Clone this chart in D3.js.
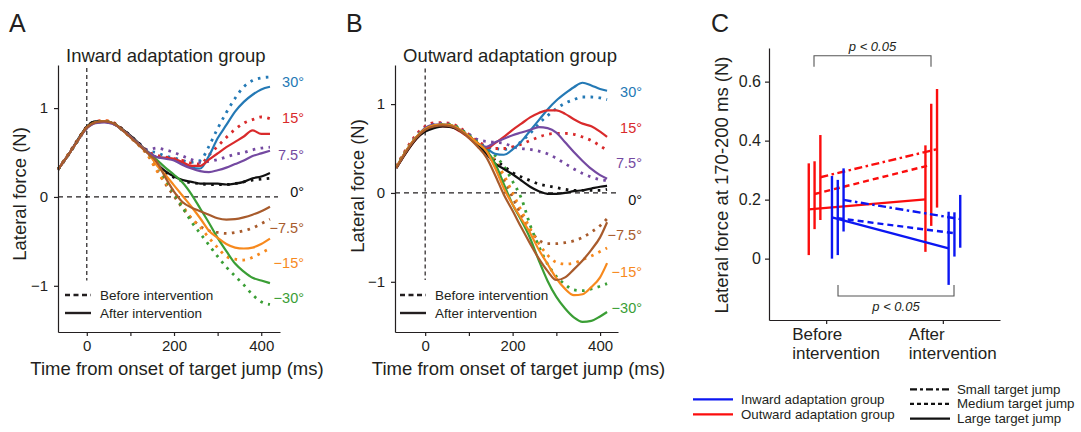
<!DOCTYPE html>
<html>
<head>
<meta charset="utf-8">
<script src="https://cdn.jsdelivr.net/npm/d3@7"></script>
<style>
  body { margin: 0; background: #fff; }
  svg text { font-family: "Liberation Sans", Arial, sans-serif; fill: #231f20; }
</style>
</head>
<body>
<svg id="chart" width="1081" height="432"></svg>
<script>
// ---- data ----
const timeA = [-66, -40, -20, 0, 20, 40, 60, 80, 100, 120, 140, 160, 180, 200, 220, 240, 260, 280, 300, 320, 340, 360, 380, 400, 420];
const timeB = [-66, -40, -20, 0, 20, 40, 60, 80, 100, 120, 140, 160, 180, 200, 220, 240, 260, 280, 300, 320, 340, 360, 380, 400, 416];

const angles = ["30°", "15°", "7.5°", "0°", "−7.5°", "−15°", "−30°"];
const angleColors = ["#2479b5", "#d92a2b", "#7449a1", "#111111", "#a85b2c", "#f7891d", "#3a9e35"];

// inward adaptation group (panel A), one row per angle
const inwardBefore = [
  [0.31, 0.49, 0.64, 0.78, 0.84, 0.85, 0.83, 0.76, 0.68, 0.60, 0.52, 0.50, 0.46, 0.44, 0.41, 0.39, 0.41, 0.57, 0.77, 0.95, 1.11, 1.24, 1.31, 1.34, 1.35],
  [0.31, 0.50, 0.65, 0.79, 0.85, 0.86, 0.84, 0.77, 0.68, 0.60, 0.51, 0.47, 0.45, 0.43, 0.41, 0.38, 0.37, 0.47, 0.57, 0.67, 0.76, 0.83, 0.87, 0.90, 0.88],
  [0.31, 0.49, 0.64, 0.78, 0.84, 0.85, 0.83, 0.76, 0.68, 0.60, 0.53, 0.55, 0.53, 0.50, 0.46, 0.42, 0.39, 0.40, 0.42, 0.45, 0.48, 0.50, 0.53, 0.55, 0.56],
  [0.31, 0.49, 0.64, 0.79, 0.85, 0.85, 0.83, 0.77, 0.69, 0.60, 0.50, 0.37, 0.28, 0.22, 0.18, 0.16, 0.15, 0.14, 0.14, 0.14, 0.15, 0.17, 0.19, 0.20, 0.21],
  [0.31, 0.49, 0.64, 0.78, 0.84, 0.85, 0.83, 0.76, 0.67, 0.58, 0.47, 0.31, 0.15, 0.01, -0.13, -0.24, -0.33, -0.38, -0.40, -0.41, -0.40, -0.38, -0.35, -0.30, -0.25],
  [0.31, 0.50, 0.65, 0.78, 0.84, 0.86, 0.83, 0.76, 0.67, 0.58, 0.47, 0.30, 0.16, 0.06, -0.10, -0.24, -0.34, -0.46, -0.57, -0.67, -0.70, -0.71, -0.68, -0.63, -0.58],
  [0.31, 0.49, 0.64, 0.78, 0.84, 0.85, 0.83, 0.76, 0.68, 0.59, 0.49, 0.38, 0.20, 0.04, -0.12, -0.28, -0.41, -0.54, -0.67, -0.79, -0.89, -0.99, -1.10, -1.18, -1.21]
];
const inwardAfter = [
  [0.31, 0.49, 0.64, 0.78, 0.84, 0.85, 0.83, 0.76, 0.68, 0.59, 0.51, 0.45, 0.44, 0.42, 0.38, 0.33, 0.32, 0.46, 0.66, 0.81, 0.96, 1.07, 1.15, 1.21, 1.24],
  [0.31, 0.49, 0.64, 0.78, 0.84, 0.85, 0.83, 0.76, 0.68, 0.59, 0.50, 0.45, 0.44, 0.43, 0.39, 0.35, 0.35, 0.42, 0.49, 0.56, 0.62, 0.68, 0.75, 0.71, 0.71],
  [0.31, 0.49, 0.64, 0.77, 0.83, 0.84, 0.82, 0.76, 0.68, 0.59, 0.50, 0.45, 0.43, 0.41, 0.36, 0.32, 0.29, 0.28, 0.30, 0.33, 0.37, 0.41, 0.46, 0.49, 0.52],
  [0.31, 0.49, 0.65, 0.79, 0.85, 0.85, 0.83, 0.77, 0.69, 0.60, 0.50, 0.38, 0.29, 0.23, 0.19, 0.17, 0.15, 0.15, 0.15, 0.14, 0.15, 0.17, 0.21, 0.23, 0.27],
  [0.31, 0.49, 0.64, 0.78, 0.84, 0.85, 0.83, 0.76, 0.67, 0.58, 0.49, 0.40, 0.22, 0.06, -0.06, -0.12, -0.16, -0.20, -0.24, -0.255, -0.25, -0.23, -0.20, -0.16, -0.11],
  [0.31, 0.49, 0.64, 0.78, 0.84, 0.85, 0.83, 0.76, 0.68, 0.59, 0.50, 0.36, 0.25, 0.13, 0.01, -0.11, -0.24, -0.38, -0.46, -0.53, -0.57, -0.58, -0.57, -0.53, -0.47],
  [0.31, 0.49, 0.64, 0.78, 0.84, 0.85, 0.83, 0.76, 0.68, 0.59, 0.50, 0.42, 0.33, 0.25, 0.16, 0.03, -0.13, -0.29, -0.46, -0.61, -0.75, -0.84, -0.91, -0.94, -0.97]
];

// outward adaptation group (panel B)
const outwardBefore = [
  [0.29, 0.50, 0.64, 0.73, 0.77, 0.78, 0.77, 0.72, 0.65, 0.57, 0.52, 0.50, 0.49, 0.51, 0.58, 0.67, 0.78, 0.87, 0.95, 1.01, 1.05, 1.08, 1.08, 1.07, 1.05],
  [0.30, 0.52, 0.66, 0.75, 0.79, 0.79, 0.78, 0.73, 0.66, 0.58, 0.53, 0.50, 0.50, 0.52, 0.55, 0.59, 0.63, 0.66, 0.67, 0.67, 0.66, 0.63, 0.59, 0.53, 0.48],
  [0.29, 0.50, 0.64, 0.73, 0.77, 0.78, 0.77, 0.72, 0.66, 0.60, 0.58, 0.57, 0.56, 0.52, 0.50, 0.49, 0.47, 0.44, 0.39, 0.33, 0.27, 0.22, 0.18, 0.15, 0.14],
  [0.29, 0.49, 0.62, 0.71, 0.75, 0.76, 0.75, 0.71, 0.64, 0.56, 0.45, 0.37, 0.30, 0.23, 0.18, 0.14, 0.10, 0.08, 0.06, 0.04, 0.03, 0.03, 0.03, 0.03, 0.04],
  [0.29, 0.50, 0.63, 0.72, 0.76, 0.77, 0.76, 0.71, 0.64, 0.56, 0.46, 0.33, 0.15, -0.05, -0.25, -0.42, -0.53, -0.57, -0.57, -0.56, -0.54, -0.50, -0.44, -0.37, -0.29],
  [0.29, 0.50, 0.63, 0.72, 0.76, 0.77, 0.76, 0.71, 0.64, 0.56, 0.47, 0.36, 0.20, 0.00, -0.20, -0.40, -0.57, -0.70, -0.78, -0.80, -0.79, -0.75, -0.71, -0.66, -0.62],
  [0.29, 0.50, 0.63, 0.72, 0.76, 0.77, 0.77, 0.72, 0.65, 0.57, 0.50, 0.42, 0.30, 0.13, -0.06, -0.36, -0.60, -0.80, -0.94, -1.03, -1.09, -1.10, -1.08, -1.05, -1.02]
];
const outwardAfter = [
  [0.28, 0.49, 0.62, 0.71, 0.75, 0.76, 0.75, 0.70, 0.63, 0.55, 0.50, 0.44, 0.43, 0.49, 0.58, 0.70, 0.82, 0.94, 1.04, 1.12, 1.19, 1.24, 1.21, 1.17, 1.15],
  [0.28, 0.48, 0.61, 0.70, 0.74, 0.75, 0.74, 0.69, 0.62, 0.54, 0.50, 0.56, 0.63, 0.71, 0.78, 0.85, 0.90, 0.93, 0.93, 0.89, 0.83, 0.78, 0.75, 0.69, 0.63],
  [0.29, 0.50, 0.63, 0.73, 0.77, 0.77, 0.76, 0.71, 0.64, 0.56, 0.52, 0.57, 0.61, 0.65, 0.68, 0.71, 0.74, 0.73, 0.68, 0.57, 0.46, 0.36, 0.27, 0.20, 0.16],
  [0.28, 0.48, 0.61, 0.69, 0.73, 0.75, 0.74, 0.70, 0.63, 0.55, 0.44, 0.33, 0.27, 0.21, 0.14, 0.07, 0.02, -0.01, -0.01, 0.00, 0.02, 0.03, 0.05, 0.07, 0.08],
  [0.28, 0.49, 0.62, 0.71, 0.75, 0.76, 0.75, 0.70, 0.62, 0.52, 0.40, 0.20, -0.02, -0.20, -0.39, -0.57, -0.74, -0.88, -0.98, -0.95, -0.86, -0.76, -0.64, -0.50, -0.33],
  [0.29, 0.50, 0.63, 0.72, 0.76, 0.77, 0.76, 0.71, 0.64, 0.56, 0.47, 0.28, 0.05, -0.13, -0.29, -0.45, -0.64, -0.80, -0.96, -1.08, -1.15, -1.14, -1.06, -0.95, -0.79],
  [0.29, 0.50, 0.63, 0.72, 0.76, 0.77, 0.76, 0.71, 0.64, 0.56, 0.48, 0.33, 0.10, -0.13, -0.31, -0.51, -0.76, -0.99, -1.17, -1.30, -1.40, -1.45, -1.44, -1.39, -1.34]
];

// panel C: lateral force at 170-200 ms, rows = small, medium, large target jump
const phases = ["Before intervention", "After intervention"];
const jumpSizes = ["Small target jump", "Medium target jump", "Large target jump"];
const inwardMeans = [[0.199, 0.134], [0.137, 0.086], [0.140, 0.035]];
const inwardLow = [[0.092, 0.037], [0.012, 0.007], [0.000, -0.089]];
const inwardHigh = [[0.306, 0.216], [0.267, 0.157], [0.280, 0.159]];
const outwardMeans = [[0.276, 0.371], [0.219, 0.318], [0.167, 0.201]];
const outwardLow = [[0.131, 0.173], [0.100, 0.111], [0.012, 0.023]];
const outwardHigh = [[0.419, 0.575], [0.330, 0.525], [0.323, 0.384]];

// ---- drawing ----
const svg = d3.select("#chart");
svg.append("rect").attr("width", 1081).attr("height", 432).attr("fill", "#fff");

const ink = "#231f20";
const dotDash = "2.6,5.4";

function drawForcePanel(cfg) {
  const x = d3.scaleLinear().domain(cfg.xDomain).range([cfg.left, cfg.right]);
  const y = d3.scaleLinear().domain(cfg.yDomain).range([332, 65]);
  const g = svg.append("g");

  // reference lines
  g.append("line")
    .attr("x1", x(0)).attr("x2", x(0))
    .attr("y1", y(cfg.vLine[0])).attr("y2", y(cfg.vLine[1]))
    .attr("stroke", ink).attr("stroke-width", 1.2).attr("stroke-dasharray", "4,3");
  g.append("line")
    .attr("x1", cfg.left).attr("x2", cfg.right - 2)
    .attr("y1", y(0)).attr("y2", y(0))
    .attr("stroke", ink).attr("stroke-width", 1.3).attr("stroke-dasharray", "5,4");

  const line = d3.line()
    .x((d, i) => x(cfg.time[i]))
    .y((d) => y(d))
    .curve(d3.curveMonotoneX);

  cfg.before.forEach((s, i) => {
    g.append("path").attr("d", line(s)).attr("fill", "none")
      .attr("stroke", angleColors[i]).attr("stroke-width", 2.8)
      .attr("stroke-dasharray", dotDash);
  });
  cfg.drawOrder.forEach((i) => {
    g.append("path").attr("d", line(cfg.after[i])).attr("fill", "none")
      .attr("stroke", angleColors[i]).attr("stroke-width", 2.2)
      .attr("stroke-linejoin", "round");
  });

  // axes
  const xAxis = g.append("g").attr("transform", `translate(0,332)`)
    .call(d3.axisBottom(x).tickValues([0, 100, 200, 300, 400])
      .tickFormat((d) => (d % 200 === 0 ? d : ""))
      .tickSize(4).tickPadding(4).tickSizeOuter(0));
  const yAxis = g.append("g").attr("transform", `translate(${cfg.left},0)`)
    .call(d3.axisLeft(y).tickValues([-1, 0, 1]).tickFormat(d3.format("d"))
      .tickSize(4).tickPadding(6).tickSizeOuter(0));
  [xAxis, yAxis].forEach((a) => {
    a.selectAll("path, line").attr("stroke", ink).attr("stroke-width", 1.2);
    a.selectAll("text").attr("font-size", "15px").attr("fill", ink);
  });

  // angle labels
  angles.forEach((a, i) => {
    g.append("text").attr("x", cfg.labelX).attr("y", cfg.labelY[i])
      .attr("text-anchor", "end").attr("dominant-baseline", "central")
      .attr("font-size", "14.5px").style("fill", angleColors[i]).text(a);
  });

  // titles
  g.append("text").attr("x", cfg.letterX).attr("y", 32)
    .attr("font-size", "25px").text(cfg.letter);
  g.append("text").attr("x", cfg.titleX).attr("y", 62)
    .attr("font-size", "18.5px").text(cfg.title);
  g.append("text").attr("x", (cfg.left + cfg.right) / 2 + cfg.xLabelShift).attr("y", 375)
    .attr("text-anchor", "middle").attr("font-size", "18.5px")
    .text("Time from onset of target jump (ms)");
  g.append("text")
    .attr("transform", `translate(${cfg.yLabelX},${cfg.yLabelY}) rotate(-90)`)
    .attr("text-anchor", "middle").attr("font-size", "18.5px")
    .text("Lateral force (N)");

  // before / after legend
  const legend = g.append("g").attr("transform", `translate(${cfg.legendX},0)`);
  [["Before intervention", "5,3.5", 295], ["After intervention", null, 313]].forEach(([label, dash, ly]) => {
    legend.append("line").attr("x1", 0).attr("x2", 26).attr("y1", ly).attr("y2", ly)
      .attr("stroke", ink).attr("stroke-width", 2.4)
      .attr("stroke-dasharray", dash);
    legend.append("text").attr("x", 35).attr("y", ly).attr("dominant-baseline", "central")
      .attr("font-size", "13.5px").text(label);
  });
}

drawForcePanel({
  letter: "A", letterX: 9, title: "Inward adaptation group", titleX: 66,
  time: timeA, before: inwardBefore, after: inwardAfter,
  drawOrder: [0, 1, 3, 6, 5, 2, 4],
  xDomain: [-66, 443], yDomain: [-1.52, 1.485], left: 58, right: 280,
  vLine: [1.45, -0.94], labelX: 304,
  labelY: [81.7, 118.3, 155, 191.7, 227.7, 263.3, 298.3],
  legendX: 65, xLabelShift: 8, yLabelX: 26, yLabelY: 194
});
drawForcePanel({
  letter: "B", letterX: 346, title: "Outward adaptation group", titleX: 403,
  time: timeB, before: outwardBefore, after: outwardAfter,
  drawOrder: [0, 1, 2, 3, 6, 5, 4],
  xDomain: [-69, 441], yDomain: [-1.565, 1.44], left: 395, right: 618,
  vLine: [1.40, -0.98], labelX: 642,
  labelY: [91.7, 128.3, 163.3, 200, 235, 271.7, 308.3],
  legendX: 400, xLabelShift: 12, yLabelX: 364, yLabelY: 186
});

// ---- panel C ----
const gc = svg.append("g");
const xc = d3.scalePoint().domain(phases).range([769, 1000]).padding(0.49);
const yc = d3.scaleLinear().domain([-0.208, 0.714]).range([320, 48]);
const cBlue = "#0b16f2", cRed = "#fb0d0d";
const jumpDash = ["8,3.5,2.5,3.5", "6,4", null];

const groupsC = [
  { color: cRed, means: outwardMeans, low: outwardLow, high: outwardHigh, offsets: [-5.8, -11.6, -17.4] },
  { color: cBlue, means: inwardMeans, low: inwardLow, high: inwardHigh, offsets: [17.4, 11.6, 5.8] }
];

groupsC.forEach((grp) => {
  jumpSizes.forEach((js, j) => {
    const px = phases.map((p) => xc(p) + grp.offsets[j]);
    phases.forEach((p, k) => {
      gc.append("line").attr("x1", px[k]).attr("x2", px[k])
        .attr("y1", yc(grp.low[j][k])).attr("y2", yc(grp.high[j][k]))
        .attr("stroke", grp.color).attr("stroke-width", 2.4);
    });
    gc.append("line")
      .attr("x1", px[0]).attr("x2", px[1])
      .attr("y1", yc(grp.means[j][0])).attr("y2", yc(grp.means[j][1]))
      .attr("stroke", grp.color).attr("stroke-width", 2.4)
      .attr("stroke-dasharray", jumpDash[j]);
  });
});

const yAxisC = gc.append("g").attr("transform", "translate(769,0)")
  .call(d3.axisLeft(yc).tickValues([0, 0.2, 0.4, 0.6])
    .tickFormat((d) => (d === 0 ? "0" : d3.format(".1f")(d)))
    .tickSize(4).tickPadding(4).tickSizeOuter(0));
const xAxisC = gc.append("g").attr("transform", "translate(0,320)")
  .call(d3.axisBottom(xc).tickSize(4).tickSizeOuter(0).tickFormat(""));
[xAxisC, yAxisC].forEach((a) => {
  a.selectAll("path, line").attr("stroke", ink).attr("stroke-width", 1.2);
  a.selectAll("text").attr("font-size", "16px").attr("fill", ink);
});
// two-line category labels, one text per line
phases.forEach((p) => {
  p.split(" ").forEach((word, k) => {
    gc.append("text").attr("x", xc(p) - 34).attr("y", 339.5 + k * 19.5)
      .attr("font-size", "17px").text(word);
  });
});
gc.append("text")
  .attr("transform", "translate(728,185) rotate(-90)")
  .attr("text-anchor", "middle").attr("font-size", "18.5px")
  .text("Lateral force at 170-200 ms (N)");
gc.append("text").attr("x", 711).attr("y", 32).attr("font-size", "25px").text("C");

// significance brackets
function bracket(x1, x2, yLine, yEnd, textY) {
  gc.append("path")
    .attr("d", `M${x1},${yEnd}V${yLine}H${x2}V${yEnd}`)
    .attr("fill", "none").attr("stroke", "#555").attr("stroke-width", 1.1);
  gc.append("text").attr("x", (x1 + x2) / 2).attr("y", textY)
    .attr("text-anchor", "middle").attr("font-size", "13px")
    .attr("font-style", "italic").text("p < 0.05");
}
bracket(814, 931, 55.7, 66.7, 51);
bracket(838, 954, 296, 285, 311);

// panel C legends
const legG = gc.append("g");
[["Inward adaptation group", cBlue, 399.3], ["Outward adaptation group", cRed, 414.3]].forEach(([label, col, ly]) => {
  legG.append("line").attr("x1", 693).attr("x2", 733).attr("y1", ly).attr("y2", ly)
    .attr("stroke", col).attr("stroke-width", 2.2);
  legG.append("text").attr("x", 741).attr("y", ly).attr("dominant-baseline", "central")
    .attr("font-size", "13.3px").text(label);
});
jumpSizes.forEach((label, j) => {
  const ly = [389.3, 403.8, 418.7][j];
  legG.append("line").attr("x1", 910).attr("x2", 950).attr("y1", ly).attr("y2", ly)
    .attr("stroke", "#111").attr("stroke-width", 2.2)
    .attr("stroke-dasharray", ["7,3,3,3", "4,3", null][j]);
  legG.append("text").attr("x", 957).attr("y", ly).attr("dominant-baseline", "central")
    .attr("font-size", "13.3px").text(label);
});
</script>
</body>
</html>
